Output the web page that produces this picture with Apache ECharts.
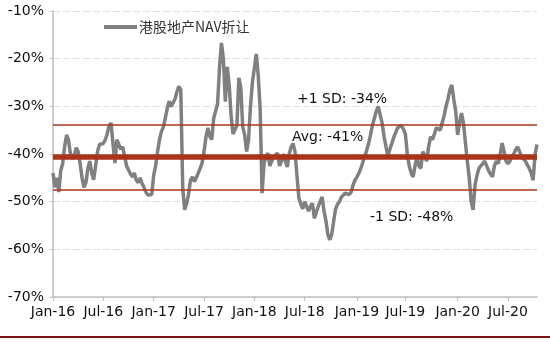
<!DOCTYPE html>
<html><head><meta charset="utf-8">
<script src="https://cdn.jsdelivr.net/npm/echarts@6/dist/echarts.min.js"></script>
<style>html,body{margin:0;padding:0;background:#fff}#c{width:550px;height:342px}</style>
</head><body><div id="c"></div>
<script>
// Weekly observations starting 2016-01-01
const startDate = '2016-01-01';
const seriesName = '港股地产NAV折让';
const v2016 = [-44,-47,-45,-48,-43.5,-42,-38.5,-36,-37,-40,-41,-40.2,-38.7,-39.5,-42,-45,-47,-46,-43,-41.5,-44,-45.4,-42.5,-39.5,-38,-38.2,-37.8,-37,-35.8,-34,-33.5,-38,-41.9,-37,-36.6,-39,-38.5,-40.5,-42.5,-43.3,-44.2,-44.8,-44,-45.5,-46,-45,-46.2,-47,-48,-48.6,-49,-48.5,-44.5];
const v2017 = [-42.5,-39.5,-37,-35.3,-34.3,-32.5,-30.5,-28.9,-30,-29.8,-28.5,-27,-25.8,-26.5,-47,-51.7,-50.5,-48.5,-45.5,-44.8,-45.8,-45,-44,-43,-41.9,-39.5,-36.5,-34.5,-36.3,-37,-32.5,-31,-29.5,-22,-16.7,-20,-29,-21.7,-25.5,-32,-35.8,-36.2,-34,-24,-26,-34.3,-36,-39.5,-37,-30,-25,-22];
const v2018 = [-19,-23.5,-30.5,-48.2,-42,-40.5,-39.8,-42.5,-41.5,-40.6,-41,-39.8,-42.5,-41.5,-40,-41.5,-42.7,-40,-38.5,-37.8,-39.5,-44.5,-49.2,-50.5,-51.5,-50,-51,-52,-51,-50.3,-53.5,-53.5,-51,-50,-49,-52,-54,-57,-58,-56.8,-54,-51.5,-50.5,-50,-49,-48.8,-48.2,-47.8,-48.5,-48,-46.5,-45.5];
const v2019 = [-44.8,-44,-43,-41.8,-40.5,-39.3,-37.8,-36,-34,-32.5,-31,-30,-31.8,-33.5,-36.3,-38.5,-40.5,-39,-37.8,-36.5,-35.5,-34.5,-34.2,-34,-34.8,-35.8,-40,-42.5,-44,-44.8,-42.5,-40.6,-42.5,-43,-39.5,-40.3,-41.5,-38.5,-36.4,-37,-35.8,-34.5,-34.8,-35,-33.5,-32,-30,-28.5,-26.5,-25.5,-28.5,-31];
const v2020 = [-36,-33.5,-31.4,-33.5,-37.5,-41.5,-45,-50,-51.7,-46.5,-44.5,-43,-42.5,-42,-41.5,-42.5,-43.5,-44.2,-44.8,-42.5,-41.5,-42,-40,-37.7,-39.5,-41.5,-42,-41.5,-40.6,-40,-39.1,-38.5,-39.5,-40.5,-41,-41.5,-42.3,-43,-44,-45.5,-40.1,-38];
const yTicks = [-70,-60,-50,-40,-30,-20,-10];
const refLevels = {sdHigh: -33.9, avg: -40.5, sdLow: -47.5};
const refTexts = ['+1 SD: -34%', 'Avg: -41%', '-1 SD: -48%'];
const tickYears = [2016, 2017, 2018, 2019, 2020];
const tickMonths = [0, 6];
const monthNames = ['Jan','Feb','Mar','Apr','May','Jun','Jul','Aug','Sep','Oct','Nov','Dec'];

const values = [].concat(v2016, v2017, v2018, v2019, v2020);
const DAY = 86400000;
const t0 = Date.parse(startDate + 'T00:00:00Z');
const cats = values.map((_, i) => new Date(t0 + i * 7 * DAY).toISOString().slice(0, 10));
const labelMap = {};
tickYears.forEach(y => tickMonths.forEach(m => {
  const idx = Math.round((Date.UTC(y, m, 1) - t0) / (7 * DAY));
  if (idx >= 0 && idx < values.length) labelMap[idx] = monthNames[m] + '-' + String(y).slice(2);
}));
const showIdx = (idx) => labelMap.hasOwnProperty(idx);

const FONT = 'DejaVu Sans';
const RED = '#a8341c';
const chart = echarts.init(document.getElementById('c'), null, {renderer: 'canvas'});
chart.setOption({
  animation: false,
  backgroundColor: '#fff',
  grid: {left: 53, right: 13, top: 11, bottom: 45, containLabel: false},
  legend: {
    data: [seriesName], left: 99, top: 15, icon: 'rect', itemWidth: 33, itemHeight: 4, itemGap: 0,
    textStyle: {fontSize: 14, color: '#333', fontFamily: 'Noto Sans CJK SC', padding: [0,0,0,-3]}
  },
  xAxis: {
    type: 'category', data: cats, boundaryGap: false,
    axisLine: {lineStyle: {color: '#bfbfbf', width: 1.5}},
    axisTick: {show: true, interval: showIdx, length: 4, lineStyle: {color: '#bfbfbf'}},
    axisLabel: {interval: showIdx, formatter: (v, i) => labelMap[i] || '', fontSize: 14, color: '#111', fontFamily: FONT, margin: 8, hideOverlap: false},
    splitLine: {show: false}
  },
  yAxis: {
    type: 'value', min: yTicks[0], max: yTicks[yTicks.length - 1], interval: 10,
    axisLine: {show: true, lineStyle: {color: '#bfbfbf', width: 1.5}},
    axisTick: {show: true, length: 3, lineStyle: {color: '#bfbfbf'}},
    axisLabel: {formatter: v => v + '%', fontSize: 14, color: '#111', fontFamily: FONT, margin: 9},
    splitLine: {show: true, lineStyle: {color: '#e0e0e0', type: [7, 3], width: 1}}
  },
  series: [{
    name: seriesName, type: 'line', data: values, showSymbol: false, symbol: 'none', z: 2,
    lineStyle: {color: '#808080', width: 3.5}, itemStyle: {color: '#808080'},
    markLine: {
      silent: true, symbol: ['none', 'none'], label: {show: false}, z: 5,
      lineStyle: {type: 'solid', color: RED, width: 1.5},
      emphasis: {disabled: true},
      data: [
        {yAxis: refLevels.sdHigh, lineStyle: {color: RED, width: 1.5, type: 'solid'}},
        {yAxis: refLevels.avg, lineStyle: {color: RED, width: 5.5, type: 'solid'}},
        {yAxis: refLevels.sdLow, lineStyle: {color: RED, width: 1.5, type: 'solid'}}
      ]
    }
  }],
  graphic: [
    {type: 'text', left: 297, top: 92, style: {text: refTexts[0], font: '14px "DejaVu Sans"', fill: '#111'}},
    {type: 'text', left: 292, top: 130, style: {text: refTexts[1], font: '14px "DejaVu Sans"', fill: '#111'}},
    {type: 'text', left: 370, top: 210, style: {text: refTexts[2], font: '14px "DejaVu Sans"', fill: '#111'}},
    {type: 'rect', left: 0, top: 336, shape: {width: 550, height: 2}, style: {fill: '#7b1113'}}
  ]
});
</script></body></html>
